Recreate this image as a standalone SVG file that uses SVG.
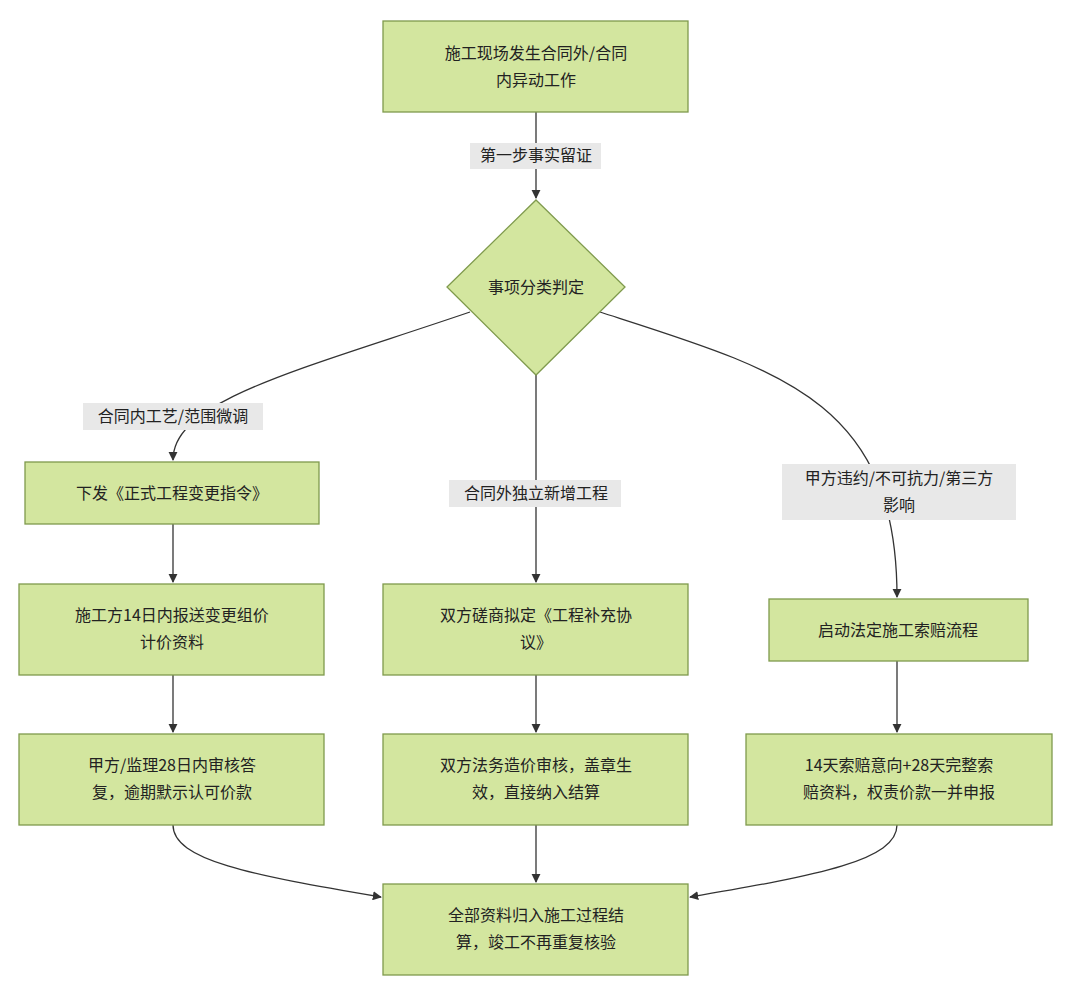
<svg xmlns="http://www.w3.org/2000/svg" width="1074" height="990" viewBox="0 0 1074 990">
<style>
.n{fill:#d3e69f;stroke:#7f9a4d;stroke-width:1.3}
.t{font-family:"Noto Sans CJK SC","Liberation Sans",sans-serif;font-size:16px;fill:#222;text-anchor:middle}
.c{fill:none;stroke:#333;stroke-width:1.3;marker-end:url(#a)}
.lb{fill:#e8e8e8}
</style>
<defs><marker id="a" viewBox="0 0 10 10" refX="9" refY="5" markerWidth="7" markerHeight="7" orient="auto"><path d="M0,0L10,5L0,10z" fill="#333"/></marker></defs>
<rect width="1074" height="990" fill="#fff"/>
<g id="connectors">
<path class="c" d="M536,112V198"/>
<path class="c" d="M470,312C300,370 173,400 173,460"/>
<path class="c" d="M536,375V582"/>
<path class="c" d="M600,312C780,370 897,400 897,597"/>
<path class="c" d="M173,524V582"/>
<path class="c" d="M173,675V732"/>
<path class="c" d="M536,675V732"/>
<path class="c" d="M897,661V732"/>
<path class="c" d="M173,825C173,860 250,875 381,897"/>
<path class="c" d="M536,825V882"/>
<path class="c" d="M897,825C897,860 820,875 690,897"/>
<rect class="lb" x="470" y="143" width="131" height="26"/>
<text class="t" x="536" y="161">第一步事实留证</text>
<rect class="lb" x="83" y="403" width="180" height="27"/>
<text class="t" x="173" y="422">合同内工艺/范围微调</text>
<rect class="lb" x="449" y="480" width="172" height="27"/>
<text class="t" x="536" y="499">合同外独立新增工程</text>
<rect class="lb" x="782" y="464" width="234" height="56"/>
<text class="t" x="899" y="484">甲方违约/不可抗力/第三方</text>
<text class="t" x="899" y="511">影响</text>
</g>
<g id="start"><rect class="n" x="383" y="21" width="305" height="91"/><text class="t" x="536" y="59">施工现场发生合同外/合同</text><text class="t" x="536" y="86">内异动工作</text></g>
<g id="decide"><path class="n" d="M536,200L625,287L536,375L447,287Z"/><text class="t" x="536" y="293">事项分类判定</text></g>
<g id="l1"><rect class="n" x="25" y="462" width="294" height="62"/><text class="t" x="172" y="499">下发《正式工程变更指令》</text></g>
<g id="l2"><rect class="n" x="19" y="584" width="305" height="91"/><text class="t" x="172" y="621">施工方14日内报送变更组价</text><text class="t" x="172" y="648">计价资料</text></g>
<g id="l3"><rect class="n" x="19" y="734" width="305" height="91"/><text class="t" x="172" y="771">甲方/监理28日内审核答</text><text class="t" x="172" y="798">复，逾期默示认可价款</text></g>
<g id="m2"><rect class="n" x="383" y="584" width="305" height="91"/><text class="t" x="536" y="621">双方磋商拟定《工程补充协</text><text class="t" x="536" y="648">议》</text></g>
<g id="m3"><rect class="n" x="383" y="734" width="305" height="91"/><text class="t" x="536" y="771">双方法务造价审核，盖章生</text><text class="t" x="536" y="798">效，直接纳入结算</text></g>
<g id="r1"><rect class="n" x="769" y="599" width="259" height="62"/><text class="t" x="898" y="636">启动法定施工索赔流程</text></g>
<g id="r3"><rect class="n" x="746" y="734" width="306" height="91"/><text class="t" x="899" y="771">14天索赔意向+28天完整索</text><text class="t" x="899" y="798">赔资料，权责价款一并申报</text></g>
<g id="end"><rect class="n" x="383" y="884" width="305" height="91"/><text class="t" x="536" y="921">全部资料归入施工过程结</text><text class="t" x="536" y="948">算，竣工不再重复核验</text></g>
</svg>
